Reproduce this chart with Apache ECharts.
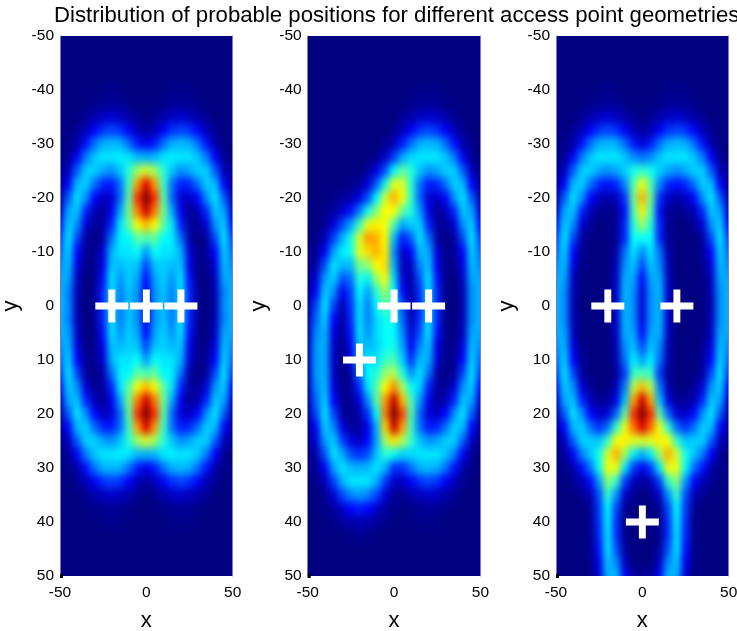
<!DOCTYPE html>
<html>
<head>
<meta charset="utf-8">
<script src="https://cdn.jsdelivr.net/npm/echarts@6/dist/echarts.min.js"></script>
<style>
html,body{margin:0;padding:0;background:#fff;overflow:hidden}
#c{width:737px;height:631px;position:relative}
</style>
</head>
<body>
<svg width="0" height="0" style="position:absolute"><filter id="soft" x="0" y="0" width="100%" height="100%" color-interpolation-filters="sRGB"><feGaussianBlur stdDeviation="3 4.5"/></filter></svg>
<div id="c"></div>
<script>
var titleText = 'Distribution of probable positions for different access point geometries';
var xCats = [-50,-45,-40,-35,-30,-25,-20,-15,-10,-5,0,5,10,15,20,25,30,35,40,45,50];
var yCats = [-50,-47.5,-45,-42.5,-40,-37.5,-35,-32.5,-30,-27.5,-25,-22.5,-20,-17.5,-15,-12.5,-10,-7.5,-5,-2.5,0,2.5,5,7.5,10,12.5,15,17.5,20,22.5,25,27.5,30,32.5,35,37.5,40,42.5,45,47.5,50];
var accessPointsA = [[-20,0],[0,0],[20,0]];
var accessPointsB = [[-20,10],[0,0],[20,0]];
var accessPointsC = [[0,40],[-20,0],[20,0]];
var gridA = [
[0,0,0,0,0,0,0,0,0,0,0,0,0,0,0,0,0,0,0,0,0],
[0,0,0,0,0,0,0,0,0,0,0,0,0,0,0,0,0,0,0,0,0],
[0,0,0,0,0,0,0,0,0,0,0,0,0,0,0,0,0,0,0,0,0],
[0,0,0,0,0,0,0,0,0,0,0,0,0,0,0,0,0,0,0,0,0],
[0,0,0,0,0,1,1,1,0,0,0,0,0,1,1,1,0,0,0,0,0],
[0,0,0,0,1,2,2,2,1,0,0,0,1,2,2,2,1,0,0,0,0],
[0,0,0,2,4,6,7,6,4,2,0,2,4,6,7,6,4,2,0,0,0],
[0,0,2,5,11,16,18,16,11,5,3,5,11,16,18,16,11,5,2,0,0],
[0,1,4,13,22,28,29,28,22,14,10,14,22,28,29,28,22,13,4,1,0],
[0,2,11,23,30,33,33,34,33,29,28,29,33,34,33,33,30,23,11,2,0],
[1,6,20,31,31,27,25,30,39,50,55,50,39,30,25,27,31,31,20,6,1],
[2,12,29,31,22,15,14,22,41,68,85,68,41,22,14,15,22,31,29,12,2],
[4,20,33,25,12,6,8,21,44,78,99,78,44,21,8,6,12,25,33,20,4],
[8,27,30,15,5,2,10,27,46,71,87,71,46,27,10,2,5,15,30,27,8],
[13,31,25,8,2,3,15,33,44,58,65,58,44,33,15,3,2,8,25,31,13],
[18,33,18,3,0,4,22,34,35,44,42,44,35,34,22,4,0,3,18,33,18],
[22,31,12,2,1,8,28,33,33,36,26,36,33,33,28,8,1,2,12,31,22],
[25,29,9,1,1,10,30,29,31,30,18,30,31,29,30,10,1,1,9,29,25],
[28,27,6,0,1,13,33,25,31,27,12,27,31,25,33,13,1,0,6,27,28],
[29,24,5,0,2,15,33,23,30,25,9,25,30,23,33,15,2,0,5,24,29],
[29,25,4,0,2,15,33,22,30,25,9,25,30,22,33,15,2,0,4,25,29],
[29,24,5,0,2,15,33,23,30,25,9,25,30,23,33,15,2,0,5,24,29],
[28,27,6,0,1,13,33,25,31,27,12,27,31,25,33,13,1,0,6,27,28],
[25,29,9,1,1,10,30,29,31,30,18,30,31,29,30,10,1,1,9,29,25],
[22,31,12,2,1,8,28,33,33,36,26,36,33,33,28,8,1,2,12,31,22],
[18,33,18,3,0,4,22,34,35,44,42,44,35,34,22,4,0,3,18,33,18],
[13,31,25,8,2,3,15,33,44,58,65,58,44,33,15,3,2,8,25,31,13],
[8,27,30,15,5,2,10,27,46,71,87,71,46,27,10,2,5,15,30,27,8],
[4,20,33,25,12,6,8,21,44,78,99,78,44,21,8,6,12,25,33,20,4],
[2,12,29,31,22,15,14,22,41,68,85,68,41,22,14,15,22,31,29,12,2],
[1,6,20,31,31,27,25,30,39,50,55,50,39,30,25,27,31,31,20,6,1],
[0,2,11,23,30,33,33,34,33,29,28,29,33,34,33,33,30,23,11,2,0],
[0,1,4,13,22,28,29,28,22,14,10,14,22,28,29,28,22,13,4,1,0],
[0,0,2,5,11,16,18,16,11,5,3,5,11,16,18,16,11,5,2,0,0],
[0,0,0,2,4,6,7,6,4,2,0,2,4,6,7,6,4,2,0,0,0],
[0,0,0,0,1,2,2,2,1,0,0,0,1,2,2,2,1,0,0,0,0],
[0,0,0,0,0,1,1,1,0,0,0,0,0,1,1,1,0,0,0,0,0],
[0,0,0,0,0,0,0,0,0,0,0,0,0,0,0,0,0,0,0,0,0],
[0,0,0,0,0,0,0,0,0,0,0,0,0,0,0,0,0,0,0,0,0],
[0,0,0,0,0,0,0,0,0,0,0,0,0,0,0,0,0,0,0,0,0],
[0,0,0,0,0,0,0,0,0,0,0,0,0,0,0,0,0,0,0,0,0]
];
var gridB = [
[0,0,0,0,0,0,0,0,0,0,0,0,0,0,0,0,0,0,0,0,0],
[0,0,0,0,0,0,0,0,0,0,0,0,0,0,0,0,0,0,0,0,0],
[0,0,0,0,0,0,0,0,0,0,0,0,0,0,0,0,0,0,0,0,0],
[0,0,0,0,0,0,0,0,0,0,0,0,0,0,0,0,0,0,0,0,0],
[0,0,0,0,0,0,0,0,0,0,0,0,0,1,1,1,0,0,0,0,0],
[0,0,0,0,0,0,0,0,0,0,0,0,1,2,2,2,1,0,0,0,0],
[0,0,0,0,0,0,0,0,0,0,0,2,4,6,7,6,4,2,0,0,0],
[0,0,0,0,0,0,0,0,0,0,2,5,11,16,18,16,11,5,2,0,0],
[0,0,0,0,0,0,0,0,0,2,5,14,22,28,29,28,22,13,4,1,0],
[0,0,0,0,0,0,0,0,2,6,17,27,32,33,33,33,30,23,11,2,0],
[0,0,0,0,0,0,0,3,9,19,35,44,39,30,25,27,31,31,20,6,1],
[0,0,0,0,0,1,3,8,20,37,56,56,39,22,14,15,22,31,29,12,2],
[0,0,0,1,3,4,9,19,35,54,66,58,40,21,8,6,12,25,33,20,4],
[0,0,1,3,7,13,23,37,48,59,58,44,38,26,10,2,5,15,30,27,8],
[0,0,2,8,18,27,41,57,60,58,42,27,31,31,15,3,2,8,25,31,13],
[0,1,5,17,28,37,55,68,66,59,29,14,20,33,22,4,0,3,18,33,18],
[0,2,11,26,34,37,56,62,66,60,25,7,11,29,28,8,1,2,12,31,22],
[0,4,19,33,29,29,46,48,59,62,28,5,6,24,30,10,1,1,9,29,25],
[1,8,26,31,19,22,39,34,49,58,32,8,4,19,33,13,1,0,6,27,28],
[2,12,31,25,10,18,35,26,39,50,36,12,3,16,33,15,1,0,5,25,29],
[3,18,33,18,5,16,33,23,35,43,37,18,4,15,33,15,1,0,4,25,29],
[4,21,31,12,3,15,33,23,32,37,36,21,5,16,33,15,1,0,5,25,29],
[5,24,29,9,2,13,33,25,32,36,35,24,8,19,33,13,1,0,6,27,28],
[5,26,28,7,1,10,30,29,31,36,37,27,11,24,30,10,1,1,9,29,25],
[5,26,28,6,1,8,28,33,33,40,42,31,16,29,28,8,1,2,12,31,22],
[5,26,28,7,0,4,22,35,38,49,52,38,25,33,22,4,0,3,18,33,18],
[5,24,29,9,1,3,15,33,43,59,69,51,36,31,15,3,2,8,25,31,13],
[4,21,31,12,2,1,9,25,43,68,88,65,42,26,10,2,5,15,30,27,8],
[3,18,33,18,4,1,4,16,36,71,99,76,43,21,8,6,12,25,33,20,4],
[2,12,31,25,9,3,3,10,28,62,87,68,41,22,14,15,22,31,29,12,2],
[1,8,26,31,18,9,6,12,27,50,61,52,40,30,25,27,31,31,20,6,1],
[0,4,19,33,28,19,16,19,30,39,36,31,32,33,33,33,30,23,11,2,0],
[0,2,11,26,33,29,28,29,33,28,16,16,22,28,29,28,22,13,4,1,0],
[0,1,5,17,28,33,33,33,28,17,7,6,11,16,18,16,11,5,2,0,0],
[0,0,2,8,18,24,26,24,18,8,2,2,4,6,7,6,4,2,0,0,0],
[0,0,1,3,7,12,14,12,7,3,1,0,1,2,2,2,1,0,0,0,0],
[0,0,0,1,3,4,5,4,3,1,0,0,0,1,1,1,0,0,0,0,0],
[0,0,0,0,0,1,2,1,0,0,0,0,0,0,0,0,0,0,0,0,0],
[0,0,0,0,0,0,0,0,0,0,0,0,0,0,0,0,0,0,0,0,0],
[0,0,0,0,0,0,0,0,0,0,0,0,0,0,0,0,0,0,0,0,0],
[0,0,0,0,0,0,0,0,0,0,0,0,0,0,0,0,0,0,0,0,0]
];
var gridC = [
[0,0,0,0,0,0,0,0,0,0,0,0,0,0,0,0,0,0,0,0,0],
[0,0,0,0,0,0,0,0,0,0,0,0,0,0,0,0,0,0,0,0,0],
[0,0,0,0,0,0,0,0,0,0,0,0,0,0,0,0,0,0,0,0,0],
[0,0,0,0,0,0,0,0,0,0,0,0,0,0,0,0,0,0,0,0,0],
[0,0,0,0,0,1,1,1,0,0,0,0,0,1,1,1,0,0,0,0,0],
[0,0,0,0,1,2,2,2,1,0,0,0,1,2,2,2,1,0,0,0,0],
[0,0,0,2,4,6,7,6,4,2,0,2,4,6,7,6,4,2,0,0,0],
[0,0,2,5,11,16,18,16,11,5,3,5,11,16,18,16,11,5,2,0,0],
[0,1,4,13,22,28,29,28,22,14,8,14,22,28,29,28,22,13,4,1,0],
[0,2,11,23,30,33,33,33,30,25,22,25,30,33,33,33,30,23,11,2,0],
[1,6,20,31,31,27,25,27,31,37,40,37,31,27,25,27,31,31,20,6,1],
[2,12,29,31,22,15,13,15,24,43,58,43,24,15,13,15,22,31,29,12,2],
[4,20,33,25,12,6,4,6,16,45,66,45,16,6,4,6,12,25,33,20,4],
[8,27,30,15,5,2,1,2,13,42,60,42,13,2,1,2,5,15,30,27,8],
[13,31,25,8,2,0,0,2,15,39,50,39,15,2,0,0,2,8,25,31,13],
[18,33,18,3,0,0,0,2,15,36,36,36,15,2,0,0,0,3,18,33,18],
[22,31,12,2,0,0,0,4,22,33,24,33,22,4,0,0,0,2,12,31,22],
[25,29,9,1,0,0,0,5,25,30,18,30,25,5,0,0,0,1,9,29,25],
[28,27,6,0,0,0,0,6,28,27,12,27,28,6,0,0,0,0,6,27,28],
[29,25,5,0,0,0,0,7,29,25,8,25,29,7,0,0,0,0,5,25,29],
[29,25,4,0,0,0,0,7,29,25,8,25,29,7,0,0,0,0,4,25,29],
[29,25,5,0,0,0,0,7,29,25,8,25,29,7,0,0,0,0,5,25,29],
[28,27,6,0,0,0,0,6,28,27,12,27,28,6,0,0,0,0,6,27,28],
[25,29,9,1,0,0,0,5,25,30,18,30,25,5,0,0,0,1,9,29,25],
[22,31,12,2,0,0,0,4,22,34,26,34,22,4,0,0,0,2,12,31,22],
[18,33,18,3,0,0,0,2,17,40,42,40,17,2,0,0,0,3,18,33,18],
[13,31,25,8,2,0,0,5,23,52,65,52,23,5,0,0,2,8,25,31,13],
[8,27,30,15,5,2,2,9,30,67,87,67,30,9,2,2,5,15,30,27,8],
[4,20,33,25,12,6,8,21,44,78,99,78,44,21,8,6,12,25,33,20,4],
[2,12,29,31,22,16,22,40,57,72,85,72,57,40,22,16,22,31,29,12,2],
[1,6,20,31,31,30,40,58,60,56,55,56,60,58,40,30,31,31,20,6,1],
[0,2,11,23,30,37,55,66,50,34,28,34,50,66,55,37,30,23,11,2,0],
[0,1,4,13,22,36,57,57,33,17,10,17,33,57,57,36,22,13,4,1,0],
[0,0,2,5,12,26,48,40,17,5,3,5,17,40,48,26,12,5,2,0,0],
[0,0,0,2,5,19,40,25,7,2,0,2,7,25,40,19,5,2,0,0,0],
[0,0,0,0,2,17,35,18,2,0,0,0,2,18,35,17,2,0,0,0,0],
[0,0,0,0,1,16,34,16,1,0,0,0,1,16,34,16,1,0,0,0,0],
[0,0,0,0,1,15,33,16,1,0,0,0,1,16,33,15,1,0,0,0,0],
[0,0,0,0,1,13,33,19,3,0,0,0,3,19,33,13,1,0,0,0,0],
[0,0,0,0,1,10,30,24,6,0,0,0,6,24,30,10,1,0,0,0,0],
[0,0,0,0,0,8,28,29,11,3,2,3,11,29,28,8,0,0,0,0,0]
];
var jetColors = ['#000080','#0000ff','#0080ff','#00ffff','#80ff80','#ffff00','#ff8000','#ff0000','#800000'];

var FONT = '"Liberation Sans", Arial, sans-serif';
var panels = [
  {left:60, grid:gridA, ap:accessPointsA},
  {left:307.7, grid:gridB, ap:accessPointsB},
  {left:556, grid:gridC, ap:accessPointsC}
];
var W = 172.7, H = 540, TOP = 36;
var cellW = W/(xCats.length-1), cellH = H/(yCats.length-1);
var PLUS = 'path://M39.5 0H60.5V39.5H100V60.5H60.5V100H39.5V60.5H0V39.5H39.5Z';

var grids=[], xAxes=[], yAxes=[], series=[];
panels.forEach(function(p,i){
  grids.push({left:p.left-cellW/2, top:TOP-cellH/2, width:W+cellW, height:H+cellH, outerBoundsMode:'none'});
  xAxes.push({type:'category', gridIndex:i, data:xCats, show:false});
  yAxes.push({type:'category', gridIndex:i, data:yCats, inverse:true, show:false});
});
panels.forEach(function(p,i){
  var cells=[];
  p.grid.forEach(function(row,yi){ row.forEach(function(v,xi){ cells.push([xi,yi,v]); }); });
  series.push({type:'heatmap', xAxisIndex:i, yAxisIndex:i, data:cells, zlevel:0, progressive:0, silent:true, animation:false});
});
panels.forEach(function(p,i){
  var g=3+i;
  grids.push({left:p.left, top:TOP, width:W, height:H, outerBoundsMode:'none'});
  xAxes.push({type:'value', gridIndex:g, min:-50, max:50, interval:50, zlevel:1,
    name:'x', nameLocation:'middle', nameGap:34, nameTextStyle:{fontFamily:FONT, fontSize:22, color:'#000'},
    axisLine:{show:false, onZero:false}, splitLine:{show:false},
    axisTick:{show:false},
    axisLabel:{fontFamily:FONT, fontSize:15.5, color:'#000', margin:9}});
  yAxes.push({type:'value', gridIndex:g, min:-50, max:50, interval:10, inverse:true, zlevel:1,
    name:'y', nameLocation:'middle', nameGap:38, nameTextStyle:{fontFamily:FONT, fontSize:22, color:'#000'},
    axisLine:{show:true, onZero:false, lineStyle:{color:'#7a7ac8', width:1}}, splitLine:{show:false},
    axisTick:{show:true, inside:true, length:3, customValues:[50], lineStyle:{color:'#000', width:4}},
    axisLabel:{fontFamily:FONT, fontSize:15.5, color:'#000', margin:6}});
  series.push({type:'scatter', xAxisIndex:3+i, yAxisIndex:3+i, data:p.ap, zlevel:1, symbol:PLUS, symbolSize:33,
    itemStyle:{color:'#fff', opacity:1}, silent:true, animation:false});
});
panels.forEach(function(p,i){
  yAxes.push({type:'value', gridIndex:3+i, position:'right', min:-50, max:50, interval:10, inverse:true, zlevel:1,
    axisLine:{show:true, onZero:false, lineStyle:{color:'#7a7ac8', width:1}}, axisTick:{show:false}, axisLabel:{show:false}, splitLine:{show:false}});
});

var chart = echarts.init(document.getElementById('c'), null, {renderer:'canvas'});
chart.setOption({
  animation:false,
  backgroundColor:'transparent',
  title:{text:titleText, left:49, top:0, zlevel:1, textStyle:{fontFamily:FONT, fontWeight:'normal', fontSize:22.2, color:'#000'}},
  tooltip:{show:false},
  visualMap:{type:'continuous', show:false, min:0, max:94, seriesIndex:[0,1,2], inRange:{color:jetColors}},
  grid:grids, xAxis:xAxes, yAxis:yAxes, series:series
});
var clip = panels.map(function(p){ return 'M'+p.left+' '+TOP+'H'+(p.left+W)+'V'+(TOP+H)+'H'+p.left+'Z'; }).join(' ');
var base = document.querySelector('#c canvas[data-zr-dom-id="zr_0"]');
if(base){
  base.style.background = '#000080';
  base.style.filter = 'url(#soft)';
  base.style.clipPath = "path('"+clip+"')";
}
</script>
</body>
</html>
